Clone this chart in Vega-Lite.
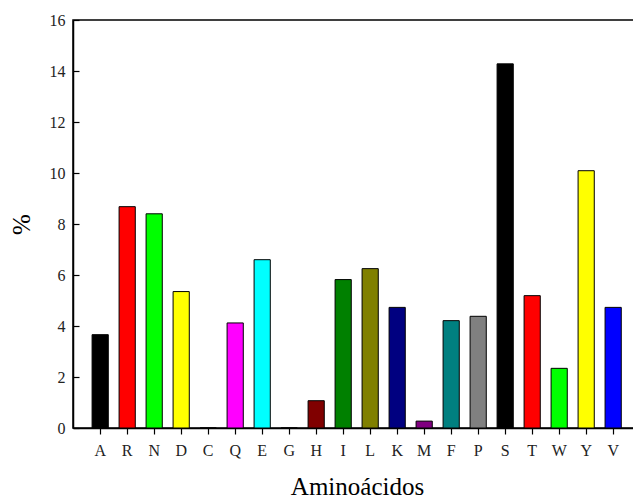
{
  "$schema": "https://vega.github.io/schema/vega-lite/v6.json",
  "autosize": "none",
  "padding": {"left": 73, "top": 20, "right": 0, "bottom": 71},
  "width": 561,
  "height": 408,
  "background": "white",
  "config": {
    "font": "Liberation Serif",
    "view": {"stroke": "black", "strokeWidth": 1.5},
    "axis": {"grid": false, "domainColor": "black", "domainWidth": 1.5, "tickColor": "black", "tickWidth": 1.2, "labelColor": "#222", "titleColor": "black", "labelFont": "Liberation Serif", "titleFont": "Liberation Serif", "labelFontSize": 16, "titleFontSize": 25, "titleFontWeight": "normal"}
  },
  "data": {"values": [
    {"aa": "A", "pct": 3.66},
    {"aa": "R", "pct": 8.68},
    {"aa": "N", "pct": 8.40},
    {"aa": "D", "pct": 5.35},
    {"aa": "C", "pct": 0},
    {"aa": "Q", "pct": 4.12},
    {"aa": "E", "pct": 6.60},
    {"aa": "G", "pct": 0},
    {"aa": "H", "pct": 1.07},
    {"aa": "I", "pct": 5.82},
    {"aa": "L", "pct": 6.25},
    {"aa": "K", "pct": 4.73},
    {"aa": "M", "pct": 0.27},
    {"aa": "F", "pct": 4.21},
    {"aa": "P", "pct": 4.38},
    {"aa": "S", "pct": 14.28},
    {"aa": "T", "pct": 5.19},
    {"aa": "W", "pct": 2.34},
    {"aa": "Y", "pct": 10.09},
    {"aa": "V", "pct": 4.73}
  ]},
  "mark": {"type": "bar", "stroke": "black", "strokeWidth": 1},
  "encoding": {
    "x": {
      "field": "aa", "type": "nominal", "sort": null,
      "scale": {"paddingInner": 0.4, "paddingOuter": 0.589, "align": 0.6},
      "axis": {"title": "Aminoácidos", "labelAngle": 0, "tickSize": 6, "labelPadding": 8, "titleBaseline": "alphabetic", "titleY": 66, "titleX": 284}
    },
    "y": {
      "field": "pct", "type": "quantitative",
      "scale": {"domain": [0, 16], "nice": false},
      "axis": {"title": "%", "values": [0, 2, 4, 6, 8, 10, 12, 14, 16], "tickSize": -6, "labelPadding": 14, "titleAngle": -90, "titleX": -52, "titleY": 204, "titleBaseline": "middle", "titleAlign": "center"}
    },
    "color": {
      "field": "aa", "type": "nominal", "legend": null,
      "scale": {
        "domain": ["A","R","N","D","C","Q","E","G","H","I","L","K","M","F","P","S","T","W","Y","V"],
        "range": ["#000000","#ff0000","#00ff00","#ffff00","#ffffff","#ff00ff","#00ffff","#ffffff","#800000","#008000","#808000","#000080","#800080","#008080","#808080","#000000","#ff0000","#00ff00","#ffff00","#0000ff"]
      }
    }
  }
}
